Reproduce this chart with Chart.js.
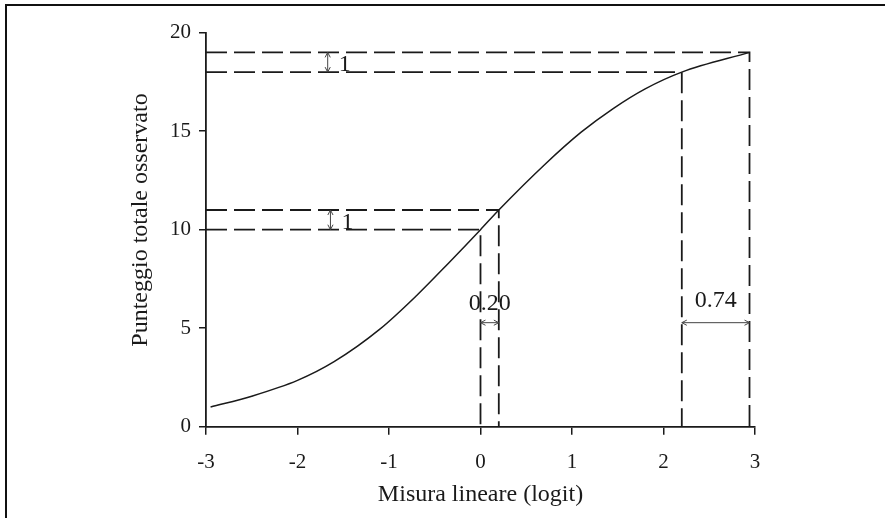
<!DOCTYPE html>
<html>
<head>
<meta charset="utf-8">
<script src="https://cdn.jsdelivr.net/npm/chart.js@4/dist/chart.umd.min.js"></script>
<style>
  html, body { margin: 0; padding: 0; background: #fff; }
  #wrap { position: relative; width: 885px; height: 518px; overflow: hidden; background: #fff; }
  #frame { position: absolute; left: 5px; top: 4px; width: 920px; height: 600px;
           border-left: 2px solid #111; border-top: 2px solid #111; }
  canvas { position: absolute; left: 0; top: 0; }
</style>
</head>
<body>
<div id="wrap">
  <div id="frame"></div>
  <canvas id="c" width="885" height="518"></canvas>
</div>
<script>
// Tick values of both axes
const logitTicks = [-3, -2, -1, 0, 1, 2, 3];
const scoreTicks = [0, 5, 10, 15, 20];

// Expected total score against the linear measure (ogive)
const curveLogit = [-2.95, -2.5, -2.0, -1.6, -1.1, -0.7, -0.35, 0, 0.2, 0.7, 1.1, 1.45, 1.8, 2.2, 2.94];
const curveScore = [1.0, 1.55, 2.35, 3.3, 4.95, 6.65, 8.3, 10, 11, 13.3, 14.95, 16.15, 17.15, 18, 19];

// Two one-point steps of the raw score and the logit distance they cover
const midScores  = [10, 11];
const midLogits  = [0, 0.2];
const highScores = [18, 19];
const highLogits = [2.2, 2.94];
const scoreStepLabel = '1';
const midGapLabel  = '0.20';
const highGapLabel = '0.74';

const INK = '#1a1a1a';
const SERIF = "'Liberation Serif', 'Times New Roman', serif";

const toPoints = (xs, ys) => xs.map((x, i) => ({ x: x, y: ys[i] }));

// dashed guide: from the score axis across to the curve, then down to the logit axis
function guide(logit, score) {
  return {
    data: [{ x: logitTicks[0], y: score }, { x: logit, y: score }, { x: logit, y: scoreTicks[0] }],
    showLine: true, borderColor: INK, borderWidth: 1.8, borderDash: [21, 7],
    pointRadius: 0, tension: 0, fill: false
  };
}

const guides = [];
midScores.forEach((s, i) => guides.push(guide(midLogits[i], s)));
highScores.forEach((s, i) => guides.push(guide(highLogits[i], s)));

function arrowHead(ctx, x, y, ang) {
  const len = 5, half = 2.6;
  ctx.beginPath();
  ctx.moveTo(x - len * Math.cos(ang) - half * Math.sin(ang), y - len * Math.sin(ang) + half * Math.cos(ang));
  ctx.lineTo(x, y);
  ctx.lineTo(x - len * Math.cos(ang) + half * Math.sin(ang), y - len * Math.sin(ang) - half * Math.cos(ang));
  ctx.stroke();
}
function doubleArrow(ctx, x1, y1, x2, y2) {
  ctx.beginPath();
  ctx.moveTo(x1, y1);
  ctx.lineTo(x2, y2);
  ctx.stroke();
  const ang = Math.atan2(y2 - y1, x2 - x1);
  arrowHead(ctx, x2, y2, ang);
  arrowHead(ctx, x1, y1, ang + Math.PI);
}

// arrows, step labels and the rotated score-axis title
const stepMarks = {
  id: 'stepMarks',
  afterDatasetsDraw(chart, args, opts) {
    const { ctx } = chart;
    const xs = chart.scales.x, ys = chart.scales.y;
    ctx.save();
    ctx.strokeStyle = '#444';
    ctx.lineWidth = 1;
    ctx.fillStyle = INK;
    ctx.font = '24px ' + SERIF;

    // vertical one-point steps
    [[midScores, opts.midStepAt], [highScores, opts.highStepAt]].forEach(([sc, at]) => {
      const px = xs.getPixelForValue(at);
      const y0 = ys.getPixelForValue(sc[0]);
      const y1 = ys.getPixelForValue(sc[1]);
      doubleArrow(ctx, px, y0, px, y1);
      ctx.textAlign = 'left';
      ctx.textBaseline = 'alphabetic';
      ctx.fillText(scoreStepLabel, px + 11, y0 - 1);
    });

    // horizontal logit gaps
    [[midLogits, midGapLabel, opts.midLift], [highLogits, highGapLabel, opts.highLift]].forEach(([lg, text, lift]) => {
      const x0 = xs.getPixelForValue(lg[0]);
      const x1 = xs.getPixelForValue(lg[1]);
      const py = ys.getPixelForValue(opts.gapArrowAt);
      doubleArrow(ctx, x0, py, x1, py);
      ctx.textAlign = 'center';
      ctx.textBaseline = 'alphabetic';
      ctx.fillText(text, (x0 + x1) / 2, py - lift);
    });
    ctx.restore();
  },
  afterDraw(chart, args, opts) {
    const { ctx } = chart;
    ctx.save();
    ctx.translate(opts.titleX, opts.titleY);
    ctx.rotate(-Math.PI / 2);
    ctx.font = '24px ' + SERIF;
    ctx.fillStyle = INK;
    ctx.textAlign = 'center';
    ctx.textBaseline = 'middle';
    ctx.fillText('Punteggio totale osservato', 0, 0);
    ctx.restore();
  }
};

new Chart(document.getElementById('c'), {
  type: 'scatter',
  data: {
    datasets: [
      {
        data: toPoints(curveLogit, curveScore),
        showLine: true, borderColor: INK, borderWidth: 1.5, pointRadius: 0,
        cubicInterpolationMode: 'monotone', fill: false
      },
      ...guides
    ]
  },
  options: {
    responsive: false,
    animation: false,
    events: [],
    layout: { padding: { left: 0, top: 32.7, right: 130, bottom: 0 } },
    plugins: {
      legend: { display: false },
      tooltip: { enabled: false },
      stepMarks: {
        midStepAt: -1.64, highStepAt: -1.67,
        gapArrowAt: 5.28, midLift: 12.5, highLift: 16,
        titleX: 141, titleY: 220
      }
    },
    scales: {
      x: {
        type: 'linear',
        min: logitTicks[0], max: logitTicks[logitTicks.length - 1],
        afterBuildTicks: s => { s.ticks = logitTicks.map(v => ({ value: v })); },
        afterFit: s => { s.height = 91.3; },
        ticks: { color: INK, font: { family: SERIF, size: 21 }, padding: 15.5, maxRotation: 0 },
        grid: { drawOnChartArea: false, drawTicks: true, tickLength: 8, color: INK, lineWidth: 1.5 },
        border: { display: true, color: INK, width: 1.8 },
        title: {
          display: true, text: 'Misura lineare (logit)', color: INK,
          font: { family: SERIF, size: 24 }, padding: { top: 0, bottom: 8.6 }
        }
      },
      y: {
        type: 'linear',
        min: scoreTicks[0], max: scoreTicks[scoreTicks.length - 1],
        afterBuildTicks: s => { s.ticks = scoreTicks.map(v => ({ value: v })); },
        afterFit: s => { s.width = 206; },
        ticks: { color: INK, font: { family: SERIF, size: 21 }, padding: 8 },
        grid: { drawOnChartArea: false, drawTicks: true, tickLength: 7, color: INK, lineWidth: 1.5 },
        border: { display: true, color: INK, width: 1.8 }
      }
    }
  },
  plugins: [stepMarks]
});
</script>
</body>
</html>
